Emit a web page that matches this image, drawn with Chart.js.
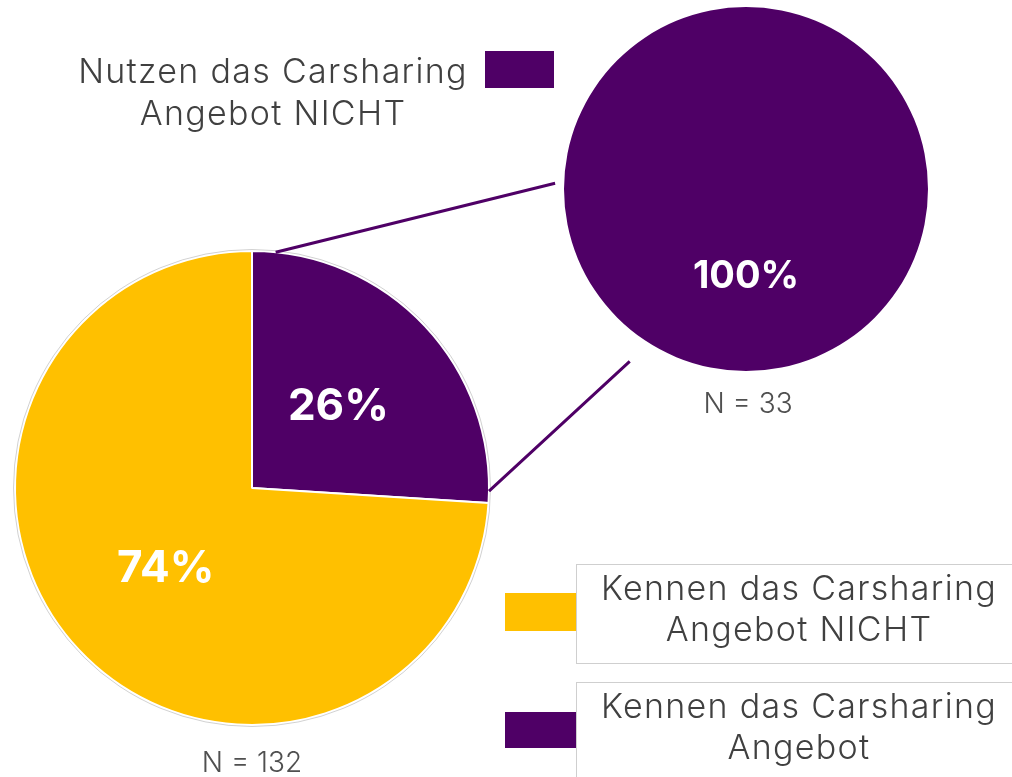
<!DOCTYPE html>
<html lang="de">
<head>
<meta charset="utf-8">
<title>Carsharing Angebot</title>
<script src="https://cdn.jsdelivr.net/npm/chart.js@4/dist/chart.umd.min.js"></script>
<style>
  html, body { margin: 0; padding: 0; background: #fff; }
  body { width: 1012px; height: 777px; position: relative; overflow: hidden;
         font-family: "Inter", "Lato", sans-serif; font-weight: 300; color: #404040; }
  .box { position: absolute; }
  #overlay { position: absolute; left: 0; top: 0; pointer-events: none; }
  .legText { position: absolute; text-align: center; font-size: 34px; letter-spacing: 1.3px; }
  .swatch { position: absolute; }
  .frame { position: absolute; border: 1px solid #cfcfcf; border-right: none; box-sizing: border-box; }
  .nLabel { position: absolute; font-size: 28px; text-align: center; color: #505050; }
</style>
</head>
<body>

<div class="box" id="bigBox" style="left:7px; top:243px; width:490px; height:490px;"><canvas id="bigPie"></canvas></div>
<div class="box" id="smallBox" style="left:556px; top:-1px; width:380px; height:380px;"><canvas id="smallPie"></canvas></div>
<canvas id="overlay" width="1012" height="777"></canvas>

<div class="legText" id="topText" style="left:20px; width:506px; top:50px; line-height:42px;"></div>
<div class="swatch" id="topSwatch" style="left:485px; top:51px; width:69px; height:37px;"></div>

<div class="swatch" id="sw0" style="left:505px; top:593px; width:71px; height:38px;"></div>
<div class="frame" style="left:576px; top:564px; width:436px; height:100px;"></div>
<div class="legText" id="lt0" style="left:581px; width:436px; top:567px; line-height:41px;"></div>

<div class="swatch" id="sw1" style="left:505px; top:712px; width:71px; height:36px;"></div>
<div class="frame" style="left:576px; top:682px; width:436px; height:120px;"></div>
<div class="legText" id="lt1" style="left:581px; width:436px; top:685px; line-height:41px;"></div>

<div class="nLabel" id="nBig" style="left:152px; width:200px; top:745px;"></div>
<div class="nLabel" id="nSmall" style="left:648px; width:200px; top:386px;"></div>

<script>
// Bekanntheit des Angebots (alle Befragten)
const knowLabels = ["Kennen das Carsharing\nAngebot", "Kennen das Carsharing\nAngebot NICHT"];
const knowValues = [26, 74];
const knowColors = ["#4f0066", "#ffc000"];
const knowN = 132;

// Nutzung unter denen, die das Angebot kennen
const useLabels = ["Nutzen das Carsharing\nAngebot NICHT"];
const useValues = [100];
const useColors = ["#4f0066"];
const useN = 33;

// legend order below the big pie: NICHT first, then Angebot
const legendOrder = [1, 0];

function html(text) {
    return text.split("\n").join("<br>");
}

document.getElementById("topText").innerHTML = html(useLabels[0]);
document.getElementById("topSwatch").style.background = useColors[0];
legendOrder.forEach(function (idx, i) {
    document.getElementById("lt" + i).innerHTML = html(knowLabels[idx]);
    document.getElementById("sw" + i).style.background = knowColors[idx];
});
document.getElementById("nBig").textContent = "N = " + knowN;
document.getElementById("nSmall").textContent = "N = " + useN;

// white percentage labels in the middle of each slice
const percentLabels = {
    id: "percentLabels",
    afterDatasetsDraw(chart, args, opts) {
        const ctx = chart.ctx;
        const meta = chart.getDatasetMeta(0);
        const values = chart.data.datasets[0].data;
        ctx.save();
        ctx.fillStyle = "#ffffff";
        ctx.font = "bold " + opts.size + "px Inter, Lato, sans-serif";
        ctx.textAlign = "center";
        ctx.textBaseline = "middle";
        meta.data.forEach(function (arc, i) {
            const p = arc.tooltipPosition();
            ctx.fillText(values[i] + "%", p.x, p.y + (opts.shift || 0));
        });
        ctx.restore();
    }
};

// thin grey rim round the pie
const rim = {
    id: "rim",
    afterDatasetsDraw(chart, args, opts) {
        if (!opts.show) return;
        const arc = chart.getDatasetMeta(0).data[0];
        const ctx = chart.ctx;
        ctx.save();
        ctx.strokeStyle = "rgba(0,0,0,0.18)";
        ctx.lineWidth = 1;
        ctx.beginPath();
        ctx.arc(arc.x, arc.y, arc.outerRadius + 1.5, 0, Math.PI * 2);
        ctx.stroke();
        ctx.restore();
    }
};

function pieOptions(radius, labelSize, showRim, shift) {
    return {
        responsive: true,
        maintainAspectRatio: false,
        animation: false,
        radius: radius,
        events: [],
        plugins: {
            legend: { display: false },
            tooltip: { enabled: false },
            percentLabels: { size: labelSize, shift: shift },
            rim: { show: showRim }
        }
    };
}

const bigChart = new Chart(document.getElementById("bigPie"), {
    type: "pie",
    data: {
        labels: knowLabels,
        datasets: [{
            data: knowValues,
            backgroundColor: knowColors,
            borderColor: "#ffffff",
            borderWidth: 2
        }]
    },
    options: pieOptions(237, 44, true, 0),
    plugins: [percentLabels, rim]
});

const smallChart = new Chart(document.getElementById("smallPie"), {
    type: "pie",
    data: {
        labels: useLabels,
        datasets: [{
            data: useValues,
            backgroundColor: useColors,
            borderWidth: 0
        }]
    },
    options: pieOptions(182, 38, false, -3),
    plugins: [percentLabels]
});

// connector lines from the purple slice to the detail pie
function drawConnectors() {
    const ctx = document.getElementById("overlay").getContext("2d");
    const bigBox = document.getElementById("bigBox");
    const smallBox = document.getElementById("smallBox");
    const slice = bigChart.getDatasetMeta(0).data[0];
    const whole = smallChart.getDatasetMeta(0).data[0];

    const bx = bigBox.offsetLeft + slice.x, by = bigBox.offsetTop + slice.y;
    const sx = smallBox.offsetLeft + whole.x, sy = smallBox.offsetTop + whole.y;
    const r = slice.outerRadius, rs = whole.outerRadius;

    const a1 = slice.startAngle + 0.1, a2 = slice.endAngle - 0.05;
    const b1 = -Math.PI + 0.03, b2 = 2.164;

    ctx.strokeStyle = knowColors[0];
    ctx.lineWidth = 3;
    ctx.beginPath();
    ctx.moveTo(bx + r * Math.cos(a1), by + r * Math.sin(a1));
    ctx.lineTo(sx + (rs + 9) * Math.cos(b1), sy + (rs + 9) * Math.sin(b1));
    ctx.moveTo(bx + r * Math.cos(a2), by + r * Math.sin(a2));
    ctx.lineTo(sx + (rs + 26) * Math.cos(b2), sy + (rs + 26) * Math.sin(b2));
    ctx.stroke();
}
drawConnectors();
</script>
</body>
</html>
